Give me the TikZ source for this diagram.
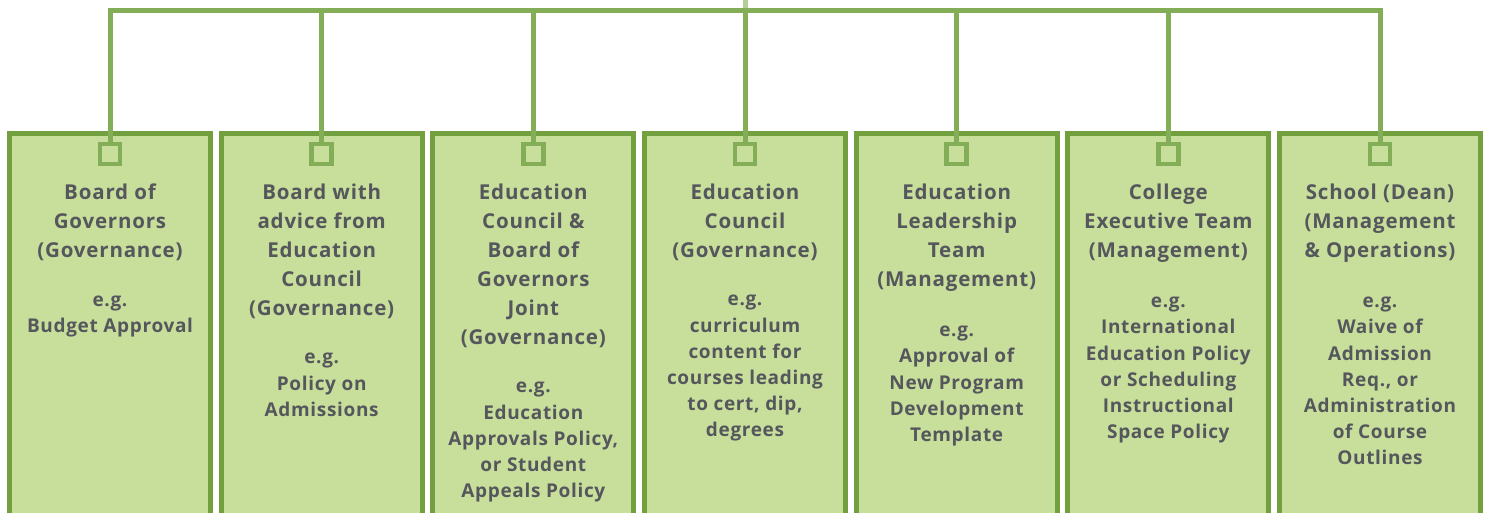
\documentclass[tikz,border=0pt]{standalone}
\usepackage{fontspec}
\setmainfont{Open Sans}
\usetikzlibrary{positioning}
\definecolor{boxgreen}{HTML}{72A03F}
\definecolor{boxfill}{HTML}{C8DF9C}
\definecolor{linkgreen}{HTML}{83AD56}
\definecolor{stemgreen}{HTML}{B3CF98}
\definecolor{textgray}{HTML}{55575C}
\begin{document}
\begin{tikzpicture}[x=1pt,y=-1pt,
    body/.style={draw=boxgreen, fill=boxfill, line width=5pt, minimum width=201pt, minimum height=420pt, anchor=north, inner sep=0pt},
    port/.style={draw=linkgreen, fill=boxfill, line width=4.5pt, minimum size=20pt, inner sep=0pt},
    headtext/.style={anchor=north, align=center, inner sep=0pt, text=textgray, font=\fontsize{20.5}{29}\selectfont\bfseries\addfontfeature{LetterSpace=4}},
    egtext/.style={below=34pt of #1, align=center, inner sep=0pt, text=textgray, font=\fontsize{19}{26.2}\selectfont\bfseries\addfontfeature{LetterSpace=3.5}},
    link/.style={draw=linkgreen, line width=5pt}]
        \useasboundingbox (0,0) rectangle (1489,513);
        \clip (0,0) rectangle (1489,513);

        % boxes
        \node[body] (b1) at (110,131) {};
        \node[body] (b2) at (321.67,131) {};
        \node[body] (b3) at (533.33,131) {};
        \node[body] (b4) at (745,131) {};
        \node[body] (b5) at (956.67,131) {};
        \node[body] (b6) at (1168.33,131) {};
        \node[body] (b7) at (1380,131) {};

        % links
        \coordinate (root) at (745,0);
        \coordinate (bus) at (745,10.5);
        \draw[stemgreen, line width=5pt] (root) -- (bus);
        \draw[link] (110,154) |- (1380,10.5) -- (1380,154);
        \draw[link] (321.67,154) -- (321.67,10.5);
        \draw[link] (533.33,154) -- (533.33,10.5);
        \draw[link] (bus) -- (745,154);
        \draw[link] (956.67,154) -- (956.67,10.5);
        \draw[link] (1168.33,154) -- (1168.33,10.5);

        \node[port] (p1) at (110,154) {};
        \node[port] (p2) at (321.67,154) {};
        \node[port] (p3) at (533.33,154) {};
        \node[port] (p4) at (745,154) {};
        \node[port] (p5) at (956.67,154) {};
        \node[port] (p6) at (1168.33,154) {};
        \node[port] (p7) at (1380,154) {};

        % texts
        \node[headtext] (t1) at (110,184) {Board of\\Governors\\(Governance)};
        \node[egtext=t1] (e1) {e.g.\\Budget Approval};
        \node[headtext] (t2) at (321.67,184) {Board with\\advice from\\Education\\Council\\(Governance)};
        \node[egtext=t2] (e2) {e.g.\\Policy on\\Admissions};
        \node[headtext] (t3) at (533.33,184) {Education\\Council \&\\Board of\\Governors\\Joint\\(Governance)};
        \node[egtext=t3] (e3) {e.g.\\Education\\Approvals Policy,\\or Student\\Appeals Policy};
        \node[headtext] (t4) at (745,184) {Education\\Council\\(Governance)};
        \node[egtext=t4] (e4) {e.g.\\curriculum\\content for\\courses leading\\to cert, dip,\\degrees};
        \node[headtext] (t5) at (956.67,184) {Education\\Leadership\\Team\\(Management)};
        \node[egtext=t5] (e5) {e.g.\\Approval of\\New Program\\Development\\Template};
        \node[headtext] (t6) at (1168.33,184) {College\\Executive Team\\(Management)};
        \node[egtext=t6] (e6) {e.g.\\International\\Education Policy\\or Scheduling\\Instructional\\Space Policy};
        \node[headtext] (t7) at (1380,184) {School (Dean)\\(Management\\\& Operations)};
        \node[egtext=t7] (e7) {e.g.\\Waive of\\Admission\\Req., or\\Administration\\of Course\\Outlines};
    \end{tikzpicture}
\end{document}
